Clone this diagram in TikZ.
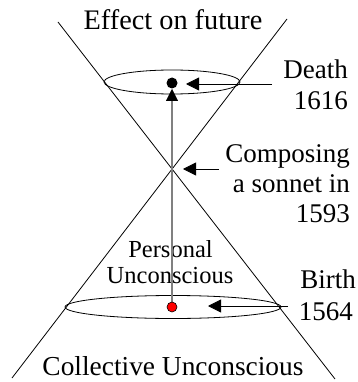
\documentclass[tikz,border=0pt]{standalone}
\usepackage{fontspec}
\setmainfont{Liberation Serif}
\usetikzlibrary{arrows.meta}
\begin{document}
\begin{tikzpicture}[x=1pt,y=-1pt,
  lbl/.style={inner sep=0pt,font=\fontsize{27}{30}\selectfont},
  rlbl/.style={lbl,anchor=base east},
  clbl/.style={lbl,anchor=base},
  big/.style={font=\fontsize{28.3}{30}\selectfont},
  small/.style={font=\fontsize{24.5}{26}\selectfont},
  thin line/.style={line width=0.8pt},
  ptr/.style={thin line,-{Triangle[length=13pt,width=13pt]}},
  axis/.style={line width=1.5pt,draw=black!50,-{Triangle[length=12pt,width=12pt,color=black,line width=0.4pt]}}
]
\useasboundingbox (0,0) rectangle (357,382);
% texts
\node[clbl,big] (top) at (173,30) {Effect on future};
\node[rlbl] (death1) at (348,79) {Death};
\node[rlbl] (death2) at (348,110) {1616};
\node[rlbl] (comp1) at (350,162) {Composing};
\node[rlbl] (comp2) at (350,192) {a sonnet in};
\node[rlbl] (comp3) at (350,222) {1593};
\node[rlbl] (birth1) at (356,288) {Birth};
\node[rlbl] (birth2) at (353,320) {1564};
\node[clbl,small] (pers1) at (170.5,257) {Personal};
\node[clbl,small] (pers2) at (170,283) {Unconscious};
\node[clbl,font=\fontsize{27.4}{30}\selectfont] (coll) at (173,375) {Collective Unconscious};
% cone lines
\coordinate (ltop) at (58,22);
\coordinate (rbot) at (335,379);
\coordinate (rtop) at (287,19);
\coordinate (lbot) at (12,378);
\draw[thin line] (ltop) -- (rbot);
\draw[thin line] (rtop) -- (lbot);
% ellipses
\draw[thin line] (172,82) ellipse [x radius=68, y radius=12];
\draw[thin line] (173,307) ellipse [x radius=108, y radius=11.5];
% dots
\coordinate (birth) at (172,307);
\coordinate (deathpt) at (172,83);
\coordinate (axtip) at (172,89);
\draw[axis] (birth) -- (axtip);
\fill[black] (deathpt) circle [radius=5.5];
\draw[fill=red,line width=0.6pt] (birth) circle [radius=5];
% pointers
\coordinate (dfrom) at (272,84);
\coordinate (dto) at (186,84);
\coordinate (cfrom) at (219,169);
\coordinate (cto) at (183,169);
\coordinate (bfrom) at (288,306);
\coordinate (bto) at (208,306);
\draw[ptr] (dfrom) -- (dto);
\draw[ptr] (cfrom) -- (cto);
\draw[ptr] (bfrom) -- (bto);
\end{tikzpicture}
\end{document}
